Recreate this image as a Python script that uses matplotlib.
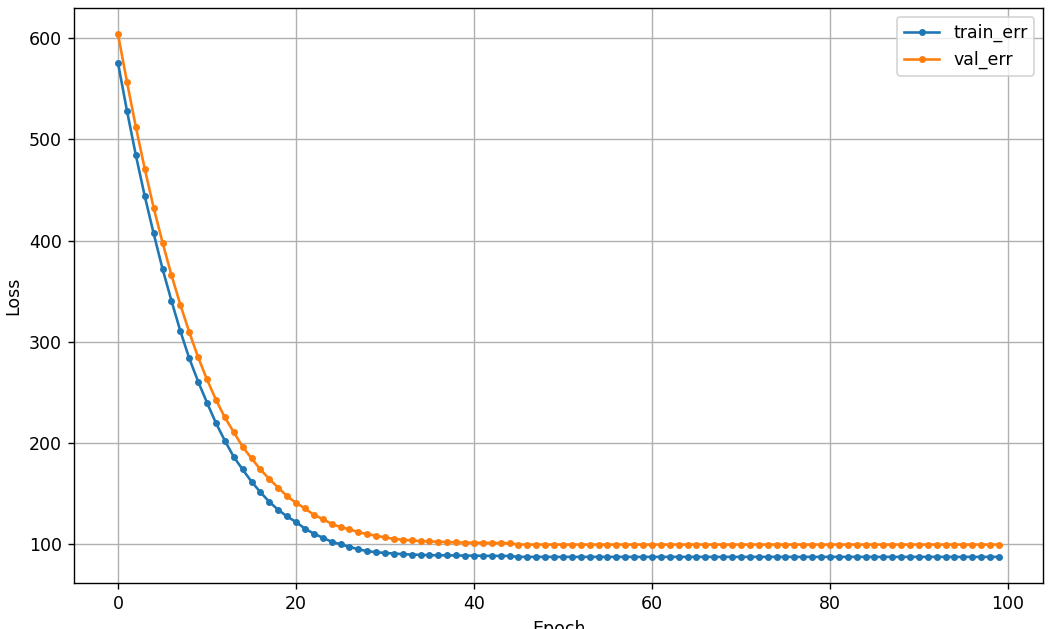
import matplotlib
matplotlib.use("Agg")
import matplotlib.pyplot as plt

epochs = list(range(100))

train_err = [575.5, 528.5, 484.5, 444.0, 407.0, 372.0, 340.5, 310.5, 283.5, 260.5,
             239.5, 219.5, 202.0, 186.0, 173.5, 161.5, 151.0, 141.5, 133.5, 127.0,
             121.5, 115.0, 110.0, 106.0, 102.0, 99.5, 97.0, 94.5, 92.7, 91.6,
             90.9, 90.3, 89.7, 89.3, 89.0, 88.7, 88.6, 88.5, 88.4, 88.3,
             88.2, 88.1, 88.0, 88.0, 87.9] + [87.0] * 55

val_err = [604.0, 557.0, 512.5, 471.0, 432.5, 398.0, 366.0, 336.5, 309.5, 284.5,
           262.5, 242.5, 225.0, 210.5, 196.0, 184.5, 173.5, 164.0, 155.5, 147.0,
           140.5, 135.0, 128.6, 124.5, 119.7, 116.5, 114.3, 111.5, 109.5, 107.9,
           106.2, 104.9, 103.9, 103.3, 102.6, 102.3, 102.0, 101.7, 101.4, 101.2,
           101.0, 100.9, 100.8, 100.7, 100.6] + [99.2] * 55

# rendered at a higher dpi so text and marks come out a bit larger
fig = plt.figure(figsize=(1054 / 125, 629 / 125), dpi=125)
ax = fig.add_axes([0.0702, 0.0731, 0.9194, 0.9139])

ax.plot(epochs, train_err, marker='.', label='train_err')
ax.plot(epochs, val_err, marker='.', label='val_err')
ax.set_xlabel('Epoch')
ax.set_ylabel('Loss')
ax.grid(True)
ax.legend(loc='upper right')

fig.savefig('out.png', dpi=125)
